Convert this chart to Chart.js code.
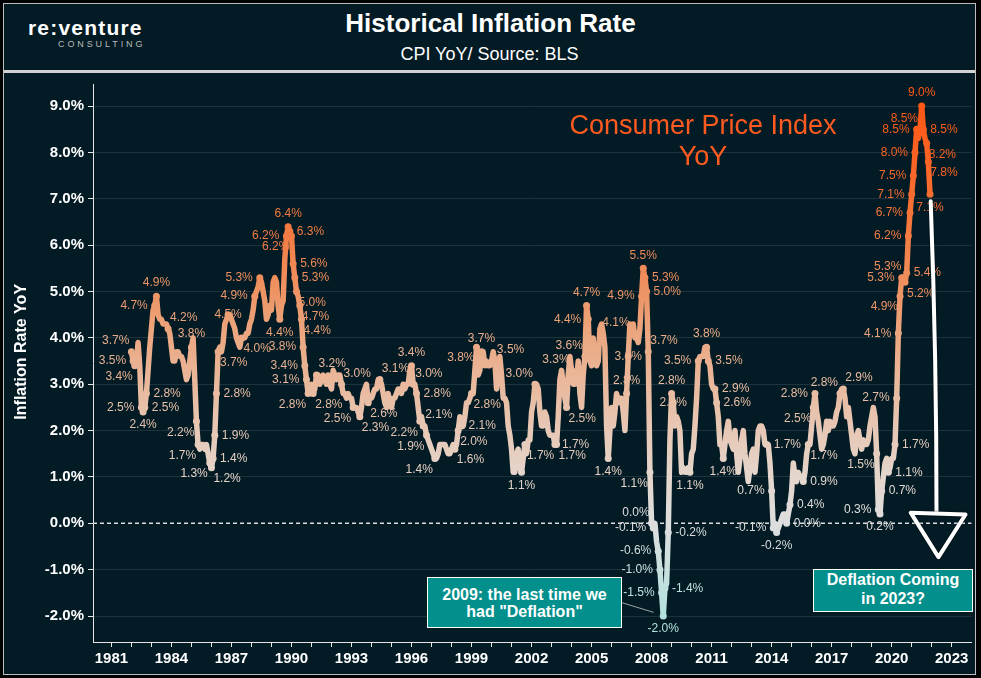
<!DOCTYPE html>
<html>
<head>
<meta charset="utf-8">
<title>Historical Inflation Rate</title>
<script src="https://cdn.jsdelivr.net/npm/chart.js@4.4.0/dist/chart.umd.min.js"></script>
<style>
  html, body { margin: 0; padding: 0; background: #000; }
  body { width: 981px; height: 678px; position: relative; overflow: hidden; font-family: "Liberation Sans", Arial, sans-serif; }
  #frame { position: absolute; left: 3px; top: 3px; width: 973px; height: 672px; box-sizing: border-box; border: 1px solid #bdbdbd; background: #031b25; }
  #sep { position: absolute; left: 4px; top: 70px; width: 971px; height: 3px; background: #d2d2d2; }
  #logo { position: absolute; left: 28px; top: 17px; color: #fff; font-size: 21px; line-height: 21px; font-weight: bold; letter-spacing: 1.2px; }
  #logoSub { position: absolute; left: 58px; top: 40px; color: #bcbcbc; font-size: 9px; line-height: 9px; letter-spacing: 2.9px; }
  #title { position: absolute; left: 0; width: 981px; top: 10px; text-align: center; color: #fff; font-size: 26px; line-height: 26px; font-weight: bold; }
  #subtitle { position: absolute; left: 0; width: 979px; top: 45px; text-align: center; color: #fff; font-size: 18px; line-height: 18px; }
  #wrap { position: absolute; left: 4px; top: 71px; width: 971px; height: 600px; }
  .note { position: absolute; box-sizing: border-box; background: #038f8c; border: 1.5px solid #fff; color: #fff; font-weight: bold; font-size: 16px; text-align: center; display: flex; align-items: center; justify-content: center; }
  #note2009 { left: 427px; top: 577px; width: 195px; height: 51px; line-height: 17px; }
  #note2023 { left: 813px; top: 569px; width: 160px; height: 43px; line-height: 19px; padding-bottom: 3px; }
  #cpiTag { position: absolute; left: 553px; width: 300px; top: 110px; color: #ff5a1f; font-size: 27px; line-height: 31px; text-align: center; }
</style>
</head>
<body>
<div id="frame"></div>
<div id="logo">re:venture</div>
<div id="logoSub">CONSULTING</div>
<div id="title">Historical Inflation Rate</div>
<div id="subtitle">CPI YoY/ Source: BLS</div>
<div id="sep"></div>
<div id="wrap"><canvas id="canvas" width="971" height="600"></canvas></div>
<div id="cpiTag">Consumer Price Index<br>YoY</div>
<div class="note" id="note2009">2009: the last time we<br>had "Deflation"</div>
<div class="note" id="note2023">Deflation Coming<br>in 2023?</div>

<script>
// monthly CPI YoY %, first value sits at 1982.0 on the axis, one step per month
const firstX = 1982;
const cpiYoY = [
    3.7,
    3.5, 3.4, 3.5, 3.9, 3.4, 2.5, 2.4, 2.5, 2.8, 3.3, 3.8, 4.2,
    4.6, 4.7, 4.9, 4.5, 4.4, 4.4, 4.3, 4.3, 4.3, 4.2, 4.1, 3.8,
    3.5, 3.5, 3.7, 3.7, 3.6, 3.6, 3.5, 3.3, 3.1, 3.2, 3.5, 3.8,
    4.0, 3.1, 2.2, 1.7, 1.6, 1.7, 1.7, 1.6, 1.7, 1.5, 1.3, 1.2,
    1.4, 1.9, 2.8, 3.7, 3.8, 3.7, 3.9, 4.3, 4.4, 4.5, 4.5, 4.4,
    4.3, 4.2, 4.0, 3.9, 3.8, 4.0, 4.0, 4.0, 4.1, 4.1, 4.3, 4.4,
    4.6, 4.9, 5.0, 5.1, 5.3, 5.2, 5.0, 4.8, 4.4, 4.5, 4.7, 4.6,
    5.2, 5.3, 5.2, 4.7, 4.4, 4.7, 4.8, 5.7, 6.2, 6.4, 6.3, 6.2,
    5.6, 5.3, 5.0, 4.9, 4.7, 4.4, 3.8, 3.4, 3.1, 2.8, 2.9, 3.0,
    2.8, 2.9, 3.2, 3.2, 3.0, 3.1, 3.2, 3.1, 3.0, 3.2, 3.0, 2.9,
    3.3, 3.2, 3.1, 3.2, 3.2, 3.0, 2.8, 2.8, 2.7, 2.8, 2.7, 2.7,
    2.5, 2.5, 2.5, 2.4, 2.3, 2.5, 2.8, 2.9, 3.0, 2.6, 2.7, 2.7,
    2.8, 2.9, 2.9, 3.1, 3.1, 3.0, 2.8, 2.6, 2.5, 2.8, 2.6, 2.5,
    2.7, 2.7, 2.8, 2.9, 2.9, 2.8, 3.0, 2.9, 3.0, 3.0, 3.3, 3.4,
    3.0, 3.0, 2.8, 2.5, 2.2, 2.3, 2.1, 2.1, 1.9, 1.8, 1.7, 1.6,
    1.5, 1.4, 1.4, 1.5, 1.7, 1.7, 1.7, 1.7, 1.6, 1.5, 1.5, 1.6,
    1.7, 1.6, 1.7, 2.0, 2.3, 2.1, 2.1, 2.3, 2.6, 2.6, 2.7, 2.8,
    2.8, 3.3, 3.8, 3.2, 3.3, 3.7, 3.7, 3.4, 3.5, 3.4, 3.4, 3.5,
    3.7, 3.5, 2.9, 3.3, 3.6, 3.2, 2.7, 2.7, 2.6, 2.1, 1.9, 1.6,
    1.1, 1.1, 1.5, 1.6, 1.2, 1.1, 1.4, 1.7, 1.5, 1.8, 1.8, 2.4,
    2.6, 3.0, 3.0, 2.9, 2.4, 2.1, 2.1, 2.4, 2.3, 2.0, 1.9, 1.9,
    1.9, 1.7, 1.7, 2.3, 3.1, 3.3, 3.0, 2.7, 2.5, 3.2, 3.6, 3.3,
    3.0, 3.0, 3.1, 3.5, 2.8, 2.5, 3.2, 3.6, 4.7, 4.4, 3.5, 3.4,
    4.0, 3.6, 3.4, 3.5, 4.2, 4.3, 4.1, 3.8, 2.1, 1.4, 2.0, 2.5,
    2.1, 2.4, 2.8, 2.6, 2.7, 2.7, 2.4, 2.0, 2.8, 3.6, 4.3, 4.1,
    4.3, 4.0, 4.0, 3.9, 4.2, 4.9, 5.5, 5.3, 5.0, 3.7, 1.1, 0.0,
    -0.1, 0.0, -0.4, -0.6, -1.0, -1.5, -2.0, -1.4, -1.3, -0.2, 1.8, 2.8,
    2.6, 2.1, 2.3, 2.2, 2.0, 1.1, 1.2, 1.1, 1.1, 1.2, 1.1, 1.5,
    1.6, 2.1, 2.7, 3.5, 3.6, 3.6, 3.6, 3.8, 3.8, 3.5, 3.4, 3.0,
    2.9, 2.9, 2.6, 2.3, 1.7, 1.7, 1.4, 1.7, 2.0, 2.2, 1.8, 1.7,
    1.6, 2.0, 1.5, 1.1, 1.4, 1.8, 2.0, 1.5, 1.2, 0.9, 1.2, 1.5,
    1.6, 1.1, 1.5, 2.0, 2.1, 2.1, 2.0, 1.7, 1.7, 1.7, 1.3, 0.7,
    -0.1, 0.0, -0.2, -0.1, 0.0, 0.1, 0.2, 0.2, 0.0, 0.2, 0.4, 0.7,
    1.3, 1.0, 0.9, 1.1, 1.0, 1.0, 0.9, 1.1, 1.5, 1.7, 1.7, 2.1,
    2.5, 2.8, 2.4, 2.2, 1.9, 1.6, 1.7, 1.9, 2.2, 2.0, 2.2, 2.1,
    2.1, 2.2, 2.4, 2.5, 2.8, 2.9, 2.9, 2.7, 2.3, 2.5, 2.2, 1.9,
    1.6, 1.5, 1.9, 2.0, 1.8, 1.6, 1.8, 1.7, 1.7, 1.8, 2.1, 2.3,
    2.5, 2.3, 1.5, 0.3, 0.2, 0.7, 1.0, 1.3, 1.4, 1.1, 1.2, 1.4,
    1.4, 1.7, 2.7, 4.1, 4.9, 5.3, 5.3, 5.2, 5.4, 6.2, 6.7, 7.1,
    7.5, 8.0, 8.5, 8.3, 8.5, 9.0, 8.5, 8.3, 8.2, 7.8, 7.1
];

// which points get a value label, and on which side of the point
const labelSpots = [
    [0, 'tl'], [1, 'l'], [2, 'bl'], [6, 'l'], [7, 'b'], [8, 'r'], [9, 'r'], [14, 'l'], [15, 't'], [22, 'tr'],
    [36, 't'], [39, 'bl'], [40, 'bl'], [47, 'bl'], [48, 'br'], [49, 'r'], [50, 'r'], [51, 'r'], [52, 'br'], [58, 'c'],
    [66, 'br'], [74, 'l'], [77, 'l'], [89, 'b'], [93, 'l'], [94, 't'], [95, 'r'], [96, 'bl'], [97, 'r'], [98, 'r'],
    [99, 'br'], [101, 'br'], [102, 'br'], [103, 'l'], [104, 'l'], [105, 'l'], [106, 'bl'], [109, 'br'], [111, 'tr'], [126, 'tr'],
    [133, 'bl'], [137, 'br'], [142, 'br'], [149, 'tr'], [168, 't'], [169, 'tr'], [171, 'r'], [173, 'bl'], [175, 'tr'], [177, 'bl'],
    [182, 'bl'], [194, 'br'], [196, 'br'], [198, 'r'], [204, 'br'], [207, 'bl'], [210, 't'], [218, 'tr'], [234, 'b'], [236, 'br'],
    [242, 'tl'], [254, 'r'], [255, 'br'], [261, 'br'], [264, 'tl'], [272, 'tl'], [273, 't'], [274, 'l'], [286, 'b'], [297, 't'],
    [298, 'c'], [300, 'tl'], [306, 'l'], [307, 't'], [308, 'r'], [309, 'r'], [310, 'tr'], [311, 'bl'], [312, 'tl'], [313, 'l'],
    [316, 'l'], [317, 'l'], [318, 'l'], [319, 'b'], [320, 'r'], [322, 'r'], [324, 't'], [325, 'c'], [335, 'b'], [340, 'l'],
    [345, 't'], [346, 'r'], [350, 'r'], [351, 'r'], [355, 'b'], [381, 'r'], [384, 'l'], [385, 'l'], [387, 'b'], [393, 'r'],
    [395, 'r'], [403, 'r'], [406, 'br'], [409, 'bl'], [410, 'l'], [425, 'tl'], [427, 'tr'], [447, 'bl'], [448, 'l'], [449, 'b'],
    [450, 'r'], [454, 'r'], [458, 'r'], [459, 'l'], [460, 'l'], [461, 'bl'], [462, 'l'], [463, 'tl'], [464, 'br'], [465, 'r'],
    [466, 'l'], [467, 'l'], [468, 'l'], [469, 'l'], [470, 'l'], [471, 'l'], [473, 'tl'], [474, 't'], [475, 'r'], [477, 'br'],
    [478, 'br'], [479, 'b']
];

const yearTicks = [1981, 1984, 1987, 1990, 1993, 1996, 1999, 2002, 2005, 2008, 2011, 2014, 2017, 2020, 2023];
const rateTicks = [-2, -1, 0, 1, 2, 3, 4, 5, 6, 7, 8, 9];
const yTitle = 'Inflation Rate YoY';

// hand drawn arrow towards 2023 and the pointer from the 2009 note, in axis units
const arrowShaft = [[2021.95, 6.95], [2022.25, 3.5], [2022.24, 0.25]];
const arrowHead = [[2020.95, 0.23], [2023.69, 0.19], [2022.34, -0.73]];
const noteLink = [[2006.5, -1.71], [2008.1, -1.92]];

// colour follows the value: pale teal below zero, peach in the middle, orange at the top
const colorStops = [
    [-2, [178, 226, 222]], [0, [222, 222, 222]], [1, [228, 214, 204]], [2, [231, 200, 182]],
    [3, [233, 185, 157]], [4, [235, 168, 130]], [5, [238, 148, 100]], [6, [242, 128, 72]],
    [7, [247, 110, 50]], [8, [251, 98, 34]], [9, [255, 88, 22]]
];

function valueColor(v) {
    if (v <= colorStops[0][0]) return 'rgb(' + colorStops[0][1] + ')';
    for (let k = 1; k < colorStops.length; k++) {
        const [v1, c1] = colorStops[k];
        if (v <= v1) {
            const [v0, c0] = colorStops[k - 1];
            const t = (v - v0) / (v1 - v0);
            return 'rgb(' + c0.map((c, j) => Math.round(c + (c1[j] - c) * t)).join(',') + ')';
        }
    }
    return 'rgb(' + colorStops[colorStops.length - 1][1] + ')';
}

let gradCache = null, gradKey = '';
function lineGradient(chart) {
    const {ctx, chartArea, scales} = chart;
    if (!chartArea) return '#e8b89c';
    const key = chartArea.top + '_' + chartArea.bottom;
    if (gradCache && gradKey === key) return gradCache;
    const top = scales.y.getPixelForValue(9.5);
    const bottom = scales.y.getPixelForValue(-2.5);
    const g = ctx.createLinearGradient(0, top, 0, bottom);
    colorStops.forEach(([v, c]) => {
        const off = (scales.y.getPixelForValue(v) - top) / (bottom - top);
        g.addColorStop(Math.min(1, Math.max(0, off)), 'rgb(' + c + ')');
    });
    gradCache = g; gradKey = key;
    return g;
}

const labelled = new Set(labelSpots.map(s => s[0]));

const sideOffsets = {
    l: [-1, 0], r: [1, 0], t: [0, -1], b: [0, 1],
    tl: [-1, -1], tr: [1, -1], bl: [-1, 1], br: [1, 1], c: [0, 0]
};

const decorations = {
    id: 'decorations',
    beforeDatasetsDraw(chart) {
        const {ctx, chartArea, scales} = chart;
        const meta = chart.getDatasetMeta(0);
        ctx.save();
        // dashed zero line
        const y0 = scales.y.getPixelForValue(0);
        ctx.strokeStyle = '#dcdcdc';
        ctx.lineWidth = 1.5;
        ctx.setLineDash([4, 3]);
        ctx.beginPath();
        ctx.moveTo(chartArea.left, y0);
        ctx.lineTo(chartArea.right, y0);
        ctx.stroke();
        ctx.setLineDash([]);

        // axis title, sits a little above the middle of the axis
        ctx.save();
        ctx.translate(18, scales.y.getPixelForValue(3.7));
        ctx.rotate(-Math.PI / 2);
        ctx.font = 'bold 16px "Liberation Sans", Arial, sans-serif';
        ctx.fillStyle = '#ffffff';
        ctx.textAlign = 'center';
        ctx.textBaseline = 'middle';
        ctx.fillText(yTitle, 0, 0);
        ctx.restore();

        // value labels, drawn under the line
        ctx.font = '12px "Liberation Sans", Arial, sans-serif';
        ctx.textAlign = 'center';
        ctx.textBaseline = 'middle';
        labelSpots.forEach(([i, side]) => {
            const pt = meta.data[i];
            const v = cpiYoY[i];
            const text = v.toFixed(1) + '%';
            const w = ctx.measureText(text).width;
            const [sx, sy] = sideOffsets[side];
            const diag = sx !== 0 && sy !== 0;
            const dx = sx * (w / 2 + (diag ? 2 : 7));
            const dy = sy * (diag ? 11 : 13);
            ctx.fillStyle = valueColor(v);
            ctx.fillText(text, pt.x + dx, pt.y + dy);
        });
        ctx.restore();
    },
    afterDatasetsDraw(chart) {
        const {ctx, scales} = chart;
        const px = p => [scales.x.getPixelForValue(p[0]), scales.y.getPixelForValue(p[1])];
        ctx.save();

        // pointer from the 2009 note
        const [a, b] = noteLink.map(px);
        ctx.strokeStyle = '#9aa4a8';
        ctx.lineWidth = 1;
        ctx.beginPath();
        ctx.moveTo(a[0], a[1]);
        ctx.lineTo(b[0], b[1]);
        ctx.stroke();

        // white arrow
        ctx.shadowColor = 'rgba(0,0,0,0.7)';
        ctx.shadowBlur = 2;
        ctx.strokeStyle = '#ffffff';
        ctx.lineWidth = 4;
        ctx.lineCap = 'round';
        ctx.lineJoin = 'round';
        const [s0, s1, s2] = arrowShaft.map(px);
        ctx.beginPath();
        ctx.moveTo(s0[0], s0[1]);
        ctx.quadraticCurveTo(s1[0], s1[1], s2[0], s2[1]);
        ctx.stroke();
        const [h0, h1, h2] = arrowHead.map(px);
        ctx.beginPath();
        ctx.moveTo(h0[0], h0[1]);
        ctx.lineTo(h1[0], h1[1]);
        ctx.lineTo(h2[0], h2[1]);
        ctx.closePath();
        ctx.stroke();
        ctx.restore();
    }
};

Chart.defaults.font.family = '"Liberation Sans", Arial, sans-serif';
Chart.defaults.color = '#ffffff';

const config = {
    type: 'line',
    data: {
        datasets: [{
            data: cpiYoY.map((v, i) => ({x: firstX + i / 12, y: v})),
            borderColor: c => lineGradient(c.chart),
            borderWidth: 5.5,
            borderJoinStyle: 'round',
            borderCapStyle: 'round',
            tension: 0,
            pointRadius: c => labelled.has(c.dataIndex) ? 3.5 : 0,
            pointHoverRadius: 0,
            pointBorderWidth: 0,
            pointBackgroundColor: c => valueColor(c.raw ? c.raw.y : 0)
        }]
    },
    options: {
        responsive: false,
        animation: false,
        events: [],
        layout: {padding: {top: 0, right: 2, bottom: 2, left: 0}},
        plugins: {legend: {display: false}, tooltip: {enabled: false}},
        scales: {
            x: {
                type: 'linear',
                min: 1980.08,
                max: 2023.99,
                afterBuildTicks: scale => {
                    const t = [];
                    for (let yr = 1981; yr <= 2023; yr++) t.push({value: yr});
                    scale.ticks = t;
                },
                afterFit: scale => { scale.height = 27; },
                ticks: {
                    autoSkip: false,
                    maxRotation: 0,
                    padding: 3,
                    color: '#ffffff',
                    font: {size: 15, weight: 'bold'},
                    callback: v => yearTicks.includes(v) ? String(v) : ''
                },
                grid: {drawOnChartArea: false, tickColor: '#e6e6e6', tickLength: 5},
                border: {color: '#e6e6e6', width: 1}
            },
            y: {
                min: -2.56,
                max: 9.477,
                afterBuildTicks: scale => { scale.ticks = rateTicks.map(v => ({value: v})); },
                afterFit: scale => { scale.width = 89; },
                ticks: {
                    padding: 4,
                    color: '#ffffff',
                    font: {size: 15, weight: 'bold'},
                    callback: v => v.toFixed(1) + '%'
                },
                grid: {
                    color: c => c.tick && c.tick.value === 0 ? 'rgba(0,0,0,0)' : '#1d343e',
                    tickColor: '#e6e6e6',
                    tickLength: 5
                },
                border: {color: '#e6e6e6', width: 1}
            }
        }
    },
    plugins: [decorations]
};

const context = document.getElementById('canvas').getContext('2d');
const chart = new Chart(context, config);
</script>
</body>
</html>
